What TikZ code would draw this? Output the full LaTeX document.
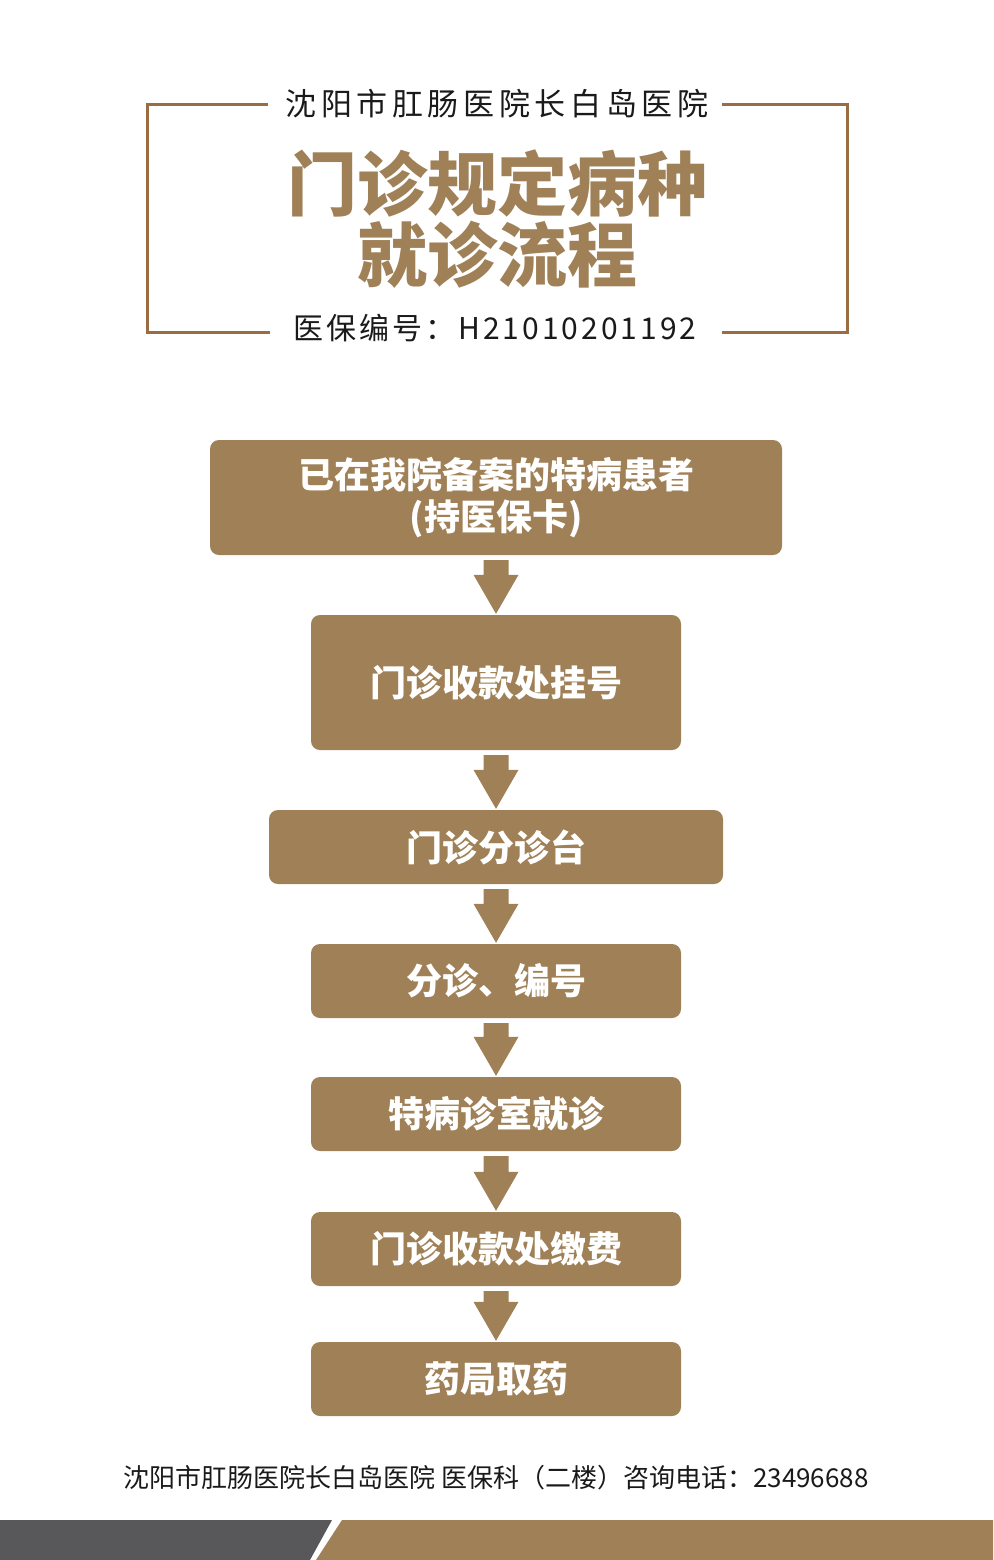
\documentclass[tikz,border=0pt]{standalone}
\usepackage{fontspec}
\setmainfont{Noto Sans CJK SC}
\usetikzlibrary{calc}
\definecolor{brn}{HTML}{A08056}
\definecolor{frm}{HTML}{9A6C42}
\definecolor{gry}{HTML}{58585A}
\definecolor{ink}{HTML}{1A1A1A}
\tikzset{
  flowbox/.style={fill=brn, rounded corners=9pt, text=white, font=\bfseries\fontsize{36}{42}\selectfont, align=center, inner sep=0pt},
  frameline/.style={draw=frm, line width=3pt},
  titletext/.style={text=brn, font=\bfseries\fontsize{70}{74}\selectfont, inner sep=0pt},
  headtext/.style={text=ink, font=\fontsize{31}{34}\selectfont\addfontfeature{LetterSpace=15}, inner sep=0pt},
  codetext/.style={text=ink, font=\fontsize{30}{34}\selectfont\addfontfeature{LetterSpace=10}, inner sep=0pt},
}
\newcommand\flowarrow[2]{\fill[brn] ($(#1.south)+(-12.5,5)$) -- ($(#1.south)+(12.5,5)$) -- ($(#2.north)+(12.5,-40)$) -- ($(#2.north)+(22.5,-40)$) -- ($(#2.north)+(0,-1)$) -- ($(#2.north)+(-22.5,-40)$) -- ($(#2.north)+(-12.5,-40)$) -- cycle;}
\begin{document}
\begin{tikzpicture}[x=1pt,y=-1pt]
\useasboundingbox (0,0) rectangle (993,1560);
\fill[white] (0,0) rectangle (993,1560);
% header frame
\draw[frameline] (268,105) -- (147,105) -- (147,332) -- (270,332);
\draw[frameline] (722,105) -- (847,105) -- (847,332) -- (722,332);
\node[headtext] (s1) at (497,104) {沈阳市肛肠医院长白岛医院};
\node[titletext] (t1) at (497,183) {门诊规定病种};
\node[titletext] (t2) at (497,255) {就诊流程};
\node[codetext] (s2) at (495,328) {医保编号：H21010201192};
% flow boxes
\node[flowbox, minimum width=572pt, minimum height=115pt] (b1) at (496,497.5) {已在我院备案的特病患者\\(持医保卡)};
\node[flowbox, minimum width=370pt, minimum height=135pt] (b2) at (496,682.5) {门诊收款处挂号};
\node[flowbox, minimum width=454pt, minimum height=74pt] (b3) at (496,847) {门诊分诊台};
\node[flowbox, minimum width=370pt, minimum height=74pt] (b4) at (496,981) {分诊、编号};
\node[flowbox, minimum width=370pt, minimum height=74pt] (b5) at (496,1114) {特病诊室就诊};
\node[flowbox, minimum width=370pt, minimum height=74pt] (b6) at (496,1249) {门诊收款处缴费};
\node[flowbox, minimum width=370pt, minimum height=74pt] (b7) at (496,1379) {药局取药};
\flowarrow{b1}{b2}
\flowarrow{b2}{b3}
\flowarrow{b3}{b4}
\flowarrow{b4}{b5}
\flowarrow{b5}{b6}
\flowarrow{b6}{b7}
% footer
\node[text=ink, font=\fontsize{26}{30}\selectfont, inner sep=0pt] (f) at (496,1478) {沈阳市肛肠医院长白岛医院 医保科（二楼）咨询电话：23496688};
\fill[gry] (0,1520) -- (332,1520) -- (310,1560) -- (0,1560) -- cycle;
\fill[brn] (342,1520) -- (993,1520) -- (993,1560) -- (316,1560) -- cycle;
\end{tikzpicture}
\end{document}
